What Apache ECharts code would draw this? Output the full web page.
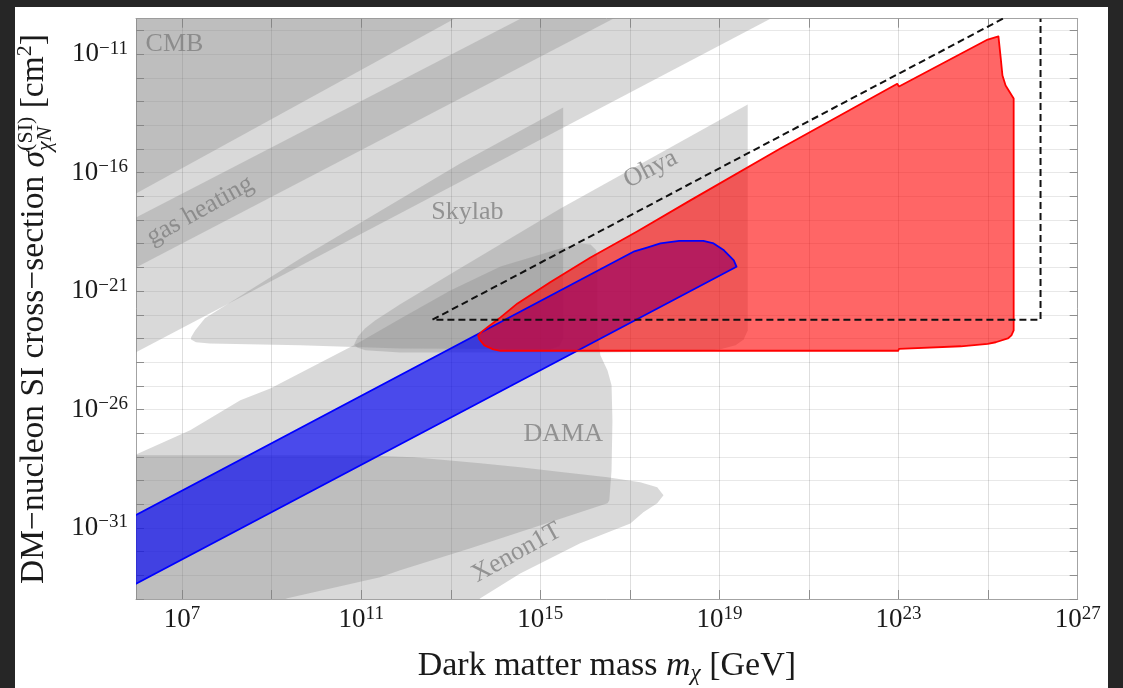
<!DOCTYPE html>
<html>
<head>
<meta charset="utf-8">
<script src="https://cdn.jsdelivr.net/npm/echarts@6/dist/echarts.min.js"></script>
<style>
html,body{margin:0;padding:0;width:1123px;height:688px;overflow:hidden;background:#262626;}
#chart{position:absolute;left:15px;top:7px;width:1093px;height:681px;background:#ffffff;}
</style>
</head>
<body>
<div id="chart"></div>
<script>
// ---- axis values (log10 units) ----
const xMin = 5.97, xMax = 27;            // log10(m_chi / GeV)
const yMin = -34, yMax = -9.5;           // log10(sigma / cm^2)
const xTickValues = [7, 9, 11, 13, 15, 17, 19, 21, 23, 25];
const xLabelValues = [7, 11, 15, 19, 23, 27];
const yTickValues = [-34,-33,-32,-31,-30,-29,-28,-27,-26,-25,-24,-23,-22,-21,-20,-19,-18,-17,-16,-15,-14,-13,-12,-11,-10];
const yLabelValues = [-31, -26, -21, -16, -11];

// ---- excluded regions, points are [log10 m, log10 sigma] ----
const cmbRegion = [[5.9,-16.95],[13.18,-9.4],[5.9,-9.4]];
const gasHeatingRegion = [[5.9,-17.96],[14.66,-9.4],[16.73,-9.4],[5.9,-20.07]];
const upperBroadRegion = [[5.9,-23.65],[20.24,-9.4],[5.9,-9.4]];
const skylabRegion = [[7.20,-22.95],[7.29,-22.66],[7.51,-22.15],[9.64,-19.62],[13.21,-15.61],[15.51,-13.25],[15.51,-23.0],[15.42,-23.33],[15.22,-23.46],[11.87,-23.42],[9.64,-23.29],[7.62,-23.21],[7.31,-23.16],[7.20,-23.04]];
const ohyaRegion = [[10.84,-23.25],[10.93,-22.91],[11.09,-22.57],[11.31,-22.24],[11.87,-21.56],[13.21,-20.04],[15.45,-17.51],[19.63,-13.12],[19.63,-22.66],[19.54,-23.04],[19.36,-23.29],[19.02,-23.46],[18.58,-23.54],[16.34,-23.59],[11.87,-23.59],[11.09,-23.50],[10.91,-23.38]];
const damaRegion = [[5.9,-27.96],[7.18,-26.88],[8.30,-25.61],[8.97,-25.11],[10.91,-23.21],[11.87,-22.17],[12.99,-20.97],[14.11,-19.96],[15.45,-19.20],[15.89,-18.99],[16.12,-19.03],[16.25,-19.28],[16.27,-19.70],[16.27,-22.66],[16.34,-23.71],[16.50,-24.35],[16.59,-24.98],[16.61,-26.46],[16.59,-28.57],[16.54,-29.83],[16.50,-29.96],[15.45,-30.61],[13.44,-31.86],[11.87,-32.79],[11.42,-33.08],[9.35,-33.97],[8.85,-34.3],[5.9,-34.3]];
const xenonRegion = [[5.9,-27.93],[11.04,-27.93],[12.16,-28.02],[12.92,-28.14],[13.66,-28.27],[14.55,-28.44],[15.51,-28.65],[16.50,-28.86],[17.23,-29.07],[17.61,-29.28],[17.75,-29.62],[17.61,-29.96],[17.30,-30.34],[17.01,-30.81],[15.89,-31.65],[14.55,-32.92],[13.66,-33.97],[13.44,-34.3],[5.9,-34.3]];

// ---- red projected region, blue band, dashed bound ----
const redRegion = [[13.61,-22.87],[13.70,-22.70],[13.82,-22.53],[14.11,-22.11],[14.49,-21.52],[15.22,-20.63],[16.12,-19.58],[17.17,-18.47],[18.35,-17.17],[20.36,-14.98],[22.97,-12.25],[23.01,-12.36],[24.99,-10.38],[25.23,-10.25],[25.28,-11.14],[25.32,-11.90],[25.39,-12.32],[25.57,-12.87],[25.57,-22.66],[25.52,-22.87],[25.44,-23.00],[25.17,-23.16],[24.99,-23.23],[24.39,-23.33],[23.01,-23.44],[22.99,-23.52],[20.36,-23.52],[14.11,-23.52],[13.95,-23.46],[13.75,-23.29],[13.64,-23.04]];
const blueBand = [[5.9,-30.52],[17.1,-19.32],[17.4,-19.15],[17.68,-18.99],[18.1,-18.88],[18.64,-18.88],[18.87,-18.99],[19.1,-19.28],[19.32,-19.70],[19.38,-19.97],[5.9,-33.43]];
const dashedBound = [[25.33,-9.5],[12.59,-22.21],[26.17,-22.21],[26.17,-9.5]];

// ---- region labels: [log10 m, log10 sigma, text, rotation deg] ----
const regionLabels = [
  [6.83, -10.57, 'CMB', 0],
  [7.40, -17.60, 'gas heating', 29],
  [13.37, -17.68, 'Skylab', 0],
  [17.46, -15.85, 'Ohya', 27],
  [15.51, -27.05, 'DAMA', 0],
  [14.47, -32.05, 'Xenon1T', 29]
];

const F = "'Liberation Serif', 'Times New Roman', serif";
const INK = '#1a1a1a';
const GRAY_FILL = 'rgba(128,128,128,0.3)';

function expText(v) {
  const s = String(Math.round(v)).replace('-', '\u2212');
  return '{b|10}{s|' + s + '}';
}
const tickRich = {
  b: {fontSize: 27, fontFamily: F, color: INK, lineHeight: 30},
  s: {fontSize: 19, fontFamily: F, color: INK, lineHeight: 19, verticalAlign: 'top'}
};

function poly(name, pts, fill, stroke, lw, z) {
  return {
    type: 'custom', name: name, coordinateSystem: 'cartesian2d',
    xAxisIndex: 0, yAxisIndex: 0, clip: true, silent: true, z: z,
    data: [[xMin, yMin]],
    renderItem: function (params, api) {
      return {
        type: 'polygon',
        shape: {points: pts.map(function (p) { return api.coord(p); })},
        style: {fill: fill, stroke: stroke, lineWidth: lw, lineJoin: 'round'}
      };
    }
  };
}

// ---- y-axis title built from measured pieces (stacked super/subscript) ----
const cv = document.createElement('canvas').getContext('2d');
function tw(t, size, it) { cv.font = (it ? 'italic ' : '') + size + 'px ' + F; return cv.measureText(t).width; }
const MS = 33.5, SS = 22;
const titleParts = [
  [{t: 'DM\u2212nucleon SI cross\u2212section ', s: MS, i: false, b: 0}],
  [{t: '\u03c3', s: MS, i: true, b: 0}],
  [{t: '(SI)', s: SS, i: false, b: -12}, {t: '\u03c7N', s: SS, i: true, b: 7}],
  [{t: ' [cm', s: MS, i: false, b: 0}],
  [{t: '2', s: SS, i: false, b: -13}],
  [{t: ']', s: MS, i: false, b: 0}]
];
let totalW = 0;
titleParts.forEach(function (g) { totalW += Math.max.apply(null, g.map(function (p) { return tw(p.t, p.s, p.i); })); });
const yTitleChildren = [];
let cx = -totalW / 2;
titleParts.forEach(function (g) {
  let w = 0;
  g.forEach(function (p) {
    w = Math.max(w, tw(p.t, p.s, p.i));
    yTitleChildren.push({
      type: 'text', x: cx, y: p.b - 0.3375 * p.s,
      style: {text: p.t, font: (p.i ? 'italic ' : '') + p.s + 'px ' + F, fill: INK,
              textAlign: 'left', align: 'left', textVerticalAlign: 'middle', verticalAlign: 'middle'}
    });
  });
  cx += w;
});

const chart = echarts.init(document.getElementById('chart'), null, {renderer: 'canvas'});
const axisLineStyle = {color: '#a3a3a3', width: 1};
const tickStyle = {color: '#8e8e8e', width: 1};

chart.setOption({
  animation: false,
  backgroundColor: '#ffffff',
  grid: {left: 121, right: 30.3, top: 11.7, bottom: 89, containLabel: false, outerBoundsMode: 'none'},
  xAxis: [{
    type: 'value', min: xMin, max: xMax, position: 'bottom',
    axisLine: {show: true, onZero: false, lineStyle: axisLineStyle},
    axisTick: {show: true, inside: true, length: 9, customValues: xTickValues, lineStyle: tickStyle},
    axisLabel: {show: true, customValues: xLabelValues, formatter: expText, rich: tickRich, margin: 6},
    splitLine: {show: true, lineStyle: {color: 'rgba(0,0,0,0.13)', width: 1}},
    name: '{r|Dark matter mass }{i|m}{sub|\u03c7}{r| [GeV]}',
    nameLocation: 'middle', nameGap: 49, nameMoveOverlap: false,
    nameTextStyle: {
      rich: {
        r: {fontSize: 34, fontFamily: F, color: INK, lineHeight: 37},
        i: {fontSize: 34, fontFamily: F, fontStyle: 'italic', color: INK, lineHeight: 37},
        sub: {fontSize: 23, fontFamily: F, fontStyle: 'italic', color: INK, lineHeight: 18, verticalAlign: 'bottom'}
      }
    }
  }, {
    type: 'value', min: xMin, max: xMax, position: 'top',
    axisLine: {show: true, onZero: false, lineStyle: axisLineStyle},
    axisTick: {show: true, inside: true, length: 9, customValues: xTickValues, lineStyle: tickStyle},
    axisLabel: {show: false}, splitLine: {show: false}
  }],
  yAxis: [{
    type: 'value', min: yMin, max: yMax, position: 'left',
    axisLine: {show: true, onZero: false, lineStyle: axisLineStyle},
    axisTick: {show: true, inside: true, length: 8, customValues: yTickValues, lineStyle: tickStyle},
    axisLabel: {show: true, customValues: yLabelValues, formatter: expText, rich: tickRich, margin: 8},
    splitLine: {show: true, lineStyle: {color: 'rgba(0,0,0,0.09)', width: 1}}
  }, {
    type: 'value', min: yMin, max: yMax, position: 'right',
    axisLine: {show: true, onZero: false, lineStyle: axisLineStyle},
    axisTick: {show: true, inside: true, length: 8, customValues: yTickValues, lineStyle: tickStyle},
    axisLabel: {show: false}, splitLine: {show: false}
  }],
  graphic: [{
    type: 'group', x: 31, y: 302, rotation: Math.PI / 2, silent: true,
    children: yTitleChildren
  }],
  series: [
    poly('broad', upperBroadRegion, GRAY_FILL, 'none', 0, 2),
    poly('CMB', cmbRegion, GRAY_FILL, 'none', 0, 2),
    poly('gas heating', gasHeatingRegion, GRAY_FILL, 'none', 0, 2),
    poly('Skylab', skylabRegion, GRAY_FILL, 'none', 0, 2),
    poly('Ohya', ohyaRegion, GRAY_FILL, 'none', 0, 2),
    poly('DAMA', damaRegion, GRAY_FILL, 'none', 0, 2),
    poly('Xenon1T', xenonRegion, GRAY_FILL, 'none', 0, 2),
    poly('blue fill', blueBand, 'rgba(0,0,245,0.66)', 'none', 0, 3),
    poly('red fill', redRegion, 'rgba(255,0,0,0.6)', 'none', 0, 4),
    poly('blue edge', blueBand, 'none', '#0000ff', 1.8, 5),
    poly('red edge', redRegion, 'none', '#ff0000', 1.8, 6),
    {
      type: 'line', name: 'bound', data: dashedBound, symbol: 'none', z: 7, silent: true,
      lineStyle: {color: '#111111', width: 2, type: [7, 4]}
    },
    {
      type: 'scatter', name: 'labels', symbolSize: 0, z: 8, silent: true,
      data: regionLabels.map(function (r) {
        return {value: [r[0], r[1]], name: r[2], label: {rotate: r[3]}};
      }),
      label: {show: true, position: 'inside', formatter: '{b}', fontFamily: F, fontSize: 26, color: '#808080'}
    }
  ]
});
</script>
</body>
</html>
